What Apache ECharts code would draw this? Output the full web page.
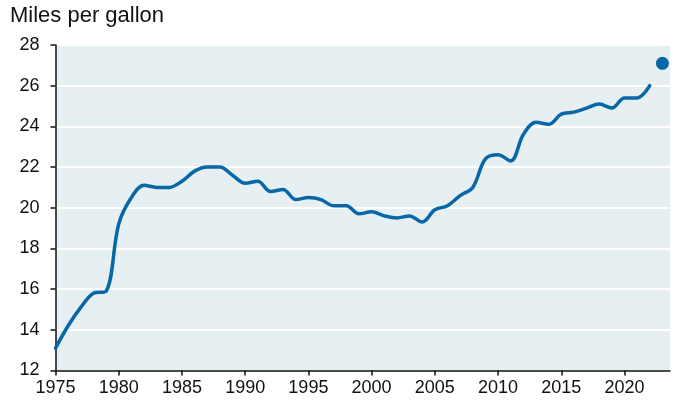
<!DOCTYPE html>
<html>
<head>
<meta charset="utf-8">
<title>Miles per gallon</title>
<script src="https://cdn.jsdelivr.net/npm/echarts@6/dist/echarts.min.js"></script>
<style>
  html, body { margin: 0; padding: 0; background: #ffffff; }
  #chart { width: 675px; height: 406px; }
</style>
</head>
<body>
<div id="chart"></div>
<script>
// Model years and real-world fuel economy (mpg)
const years = [1975, 1976, 1977, 1978, 1979, 1980, 1981, 1982, 1983, 1984,
               1985, 1986, 1987, 1988, 1989, 1990, 1991, 1992, 1993, 1994,
               1995, 1996, 1997, 1998, 1999, 2000, 2001, 2002, 2003, 2004,
               2005, 2006, 2007, 2008, 2009, 2010, 2011, 2012, 2013, 2014,
               2015, 2016, 2017, 2018, 2019, 2020, 2021, 2022];
const mpg = [13.1, 14.2, 15.1, 15.8, 15.9, 19.2, 20.5, 21.1, 21.0, 21.0,
             21.3, 21.8, 22.0, 22.0, 21.6, 21.2, 21.3, 20.8, 20.9, 20.4,
             20.5, 20.4, 20.1, 20.1, 19.7, 19.8, 19.6, 19.5, 19.6, 19.3,
             19.9, 20.1, 20.6, 21.0, 22.4, 22.6, 22.3, 23.6, 24.2, 24.1,
             24.6, 24.7, 24.9, 25.1, 24.9, 25.4, 25.4, 26.0];

// Preliminary value shown as a separate dot
const prelimYear = [2023];
const prelimMpg = [27.1];

const yTicks = [12, 14, 16, 18, 20, 22, 24, 26, 28];

const lineColor = '#0867a6';
const fontFamily = '"Liberation Sans", Arial, Helvetica, sans-serif';

const chart = echarts.init(document.getElementById('chart'), null, { renderer: 'canvas' });

chart.setOption({
  animation: false,
  backgroundColor: '#ffffff',
  graphic: [{
    type: 'text',
    left: 10,
    top: 5,
    style: {
      text: 'Miles per gallon',
      font: '22px ' + fontFamily,
      fill: '#111111'
    }
  }],
  grid: {
    left: 55.5,
    right: 5,
    top: 45,
    bottom: 35.5,
    show: true,
    backgroundColor: '#e6eff2',
    borderWidth: 0
  },
  xAxis: {
    type: 'value',
    min: 1975,
    max: 2023.6,
    interval: 5,
    axisLine: { show: true, onZero: false, lineStyle: { color: '#111111', width: 1.5 } },
    axisTick: { show: true, length: 5, lineStyle: { color: '#111111', width: 1.5 } },
    axisLabel: {
      margin: 9,
      fontSize: 18,
      fontFamily: fontFamily,
      color: '#111111',
      showMaxLabel: false,
      formatter: v => String(v)
    },
    splitLine: { show: false }
  },
  yAxis: {
    type: 'value',
    min: yTicks[0],
    max: yTicks[yTicks.length - 1],
    interval: 2,
    axisLine: { show: true, lineStyle: { color: '#111111', width: 1.5 } },
    axisTick: { show: true, length: 5, lineStyle: { color: '#111111', width: 1.5 } },
    axisLabel: {
      margin: 16,
      fontSize: 18,
      fontFamily: fontFamily,
      color: '#111111'
    },
    splitLine: { show: true, lineStyle: { color: '#ffffff', width: 2 } }
  },
  series: [
    {
      type: 'line',
      data: years.map((y, i) => [y, mpg[i]]),
      smooth: 0.35,
      showSymbol: false,
      symbol: 'none',
      lineStyle: { color: lineColor, width: 3.5, cap: 'round' },
      z: 3
    },
    {
      type: 'scatter',
      data: prelimYear.map((y, i) => [y, prelimMpg[i]]),
      symbol: 'circle',
      symbolSize: 13,
      itemStyle: { color: lineColor, opacity: 1 },
      z: 4
    }
  ]
});
</script>
</body>
</html>
